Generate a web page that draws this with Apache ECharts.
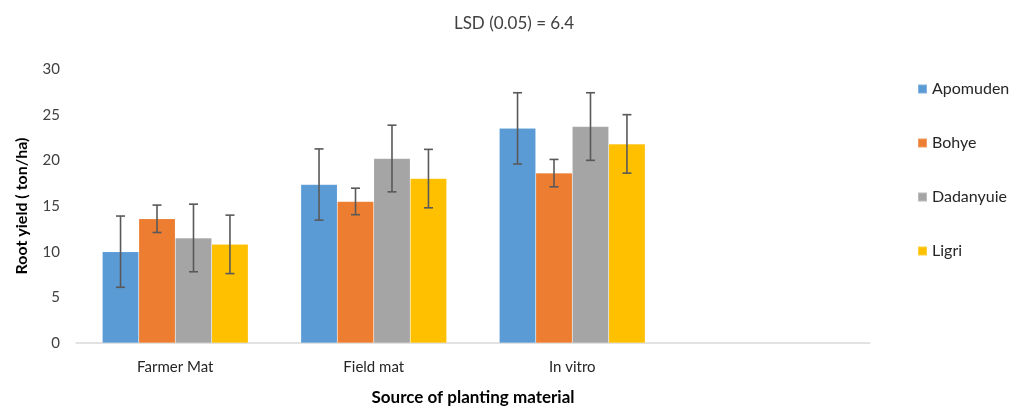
<!DOCTYPE html>
<html><head><meta charset="utf-8">
<script src="https://cdn.jsdelivr.net/npm/echarts@6/dist/echarts.min.js"></script>
<style>html,body{margin:0;padding:0;background:#fff}#c{width:1028px;height:413px}</style>
</head><body><div id="c"></div>
<script>
const categories = ['Farmer Mat', 'Field mat', 'In vitro', ''];
const seriesNames = ['Apomuden', 'Bohye', 'Dadanyuie', 'Ligri'];
const apomuden = [10.0, 17.35, 23.5, null];
const bohye = [13.6, 15.5, 18.6, null];
const dadanyuie = [11.5, 20.2, 23.7, null];
const ligri = [10.8, 18.0, 21.8, null];
const apomudenErr = [3.9, 3.9, 3.9, null];
const bohyeErr = [1.5, 1.45, 1.5, null];
const dadanyuieErr = [3.7, 3.65, 3.7, null];
const ligriErr = [3.2, 3.2, 3.2, null];
const colors = ['#5B9BD5', '#ED7D31', '#A5A5A5', '#FFC000'];
const yTicks = [0, 5, 10, 15, 20, 25, 30];

const values = [apomuden, bohye, dadanyuie, ligri];
const errs = [apomudenErr, bohyeErr, dadanyuieErr, ligriErr];
const catGapFrac = 0.265;
const font = 'Lato, "Open Sans", sans-serif';

const series = [];
seriesNames.forEach((name, i) => {
  series.push({
    name, type: 'bar', data: values[i], barGap: '0%', barCategoryGap: (catGapFrac * 100) + '%',
    itemStyle: { color: colors[i], borderColor: 'rgba(255,255,255,0.25)', borderWidth: 0.5 }
  });
});
seriesNames.forEach((name, i) => {
  const d = values[i].map((v, k) => v == null ? null : [k, v - errs[i][k], v + errs[i][k]]).filter(x => x);
  series.push({
    type: 'custom', z: 10, silent: true, data: d,
    renderItem: function (params, api) {
      const k = api.value(0);
      const lo = api.coord([k, api.value(1)]);
      const hi = api.coord([k, api.value(2)]);
      const cw = api.size([1, 0])[0];
      const gw = cw * (1 - catGapFrac);
      const bw = gw / 4;
      const x = lo[0] - gw / 2 + bw * (i + 0.5);
      const cap = 4.5;
      const st = { stroke: '#595959', lineWidth: 1.6 };
      return { type: 'group', children: [
        { type: 'line', shape: { x1: x, y1: lo[1], x2: x, y2: hi[1] }, style: st },
        { type: 'line', shape: { x1: x - cap, y1: lo[1], x2: x + cap, y2: lo[1] }, style: st },
        { type: 'line', shape: { x1: x - cap, y1: hi[1], x2: x + cap, y2: hi[1] }, style: st }
      ]};
    }
  });
});

const chart = echarts.init(document.getElementById('c'));
chart.setOption({
  animation: false,
  title: { text: 'LSD (0.05) = 6.4', left: 'center', top: 10,
    textStyle: { fontFamily: font, fontSize: 17, fontWeight: 'normal', color: '#404040' } },
  legend: {
    orient: 'vertical', left: 912, top: 76, itemGap: 38, itemWidth: 9, itemHeight: 9,
    icon: 'rect', data: seriesNames,
    textStyle: { fontFamily: font, fontSize: 16, color: '#262626' }
  },
  grid: { left: 76, right: 158, top: 69, bottom: 70 },
  xAxis: {
    type: 'category', data: categories,
    name: 'Source of planting material', nameLocation: 'middle', nameGap: 46,
    nameTextStyle: { fontFamily: font, fontSize: 17, fontWeight: 'bold', color: '#000' },
    axisLine: { lineStyle: { color: '#D9D9D9', width: 1.5 } },
    axisTick: { show: false },
    axisLabel: { fontFamily: font, fontSize: 15, color: '#262626', margin: 17, interval: 0 }
  },
  yAxis: {
    type: 'value', min: 0, max: 30, interval: 5,
    name: 'Root yield ( ton/ha)', nameLocation: 'middle', nameGap: 46,
    nameTextStyle: { fontFamily: font, fontSize: 16, fontWeight: 'bold', color: '#000' },
    axisLine: { show: false }, axisTick: { show: false },
    splitLine: { show: false },
    axisLabel: { fontFamily: font, fontSize: 15, color: '#404040', margin: 16,
      formatter: v => yTicks.includes(v) ? String(v) : '' }
  },
  series
});
</script></body></html>
